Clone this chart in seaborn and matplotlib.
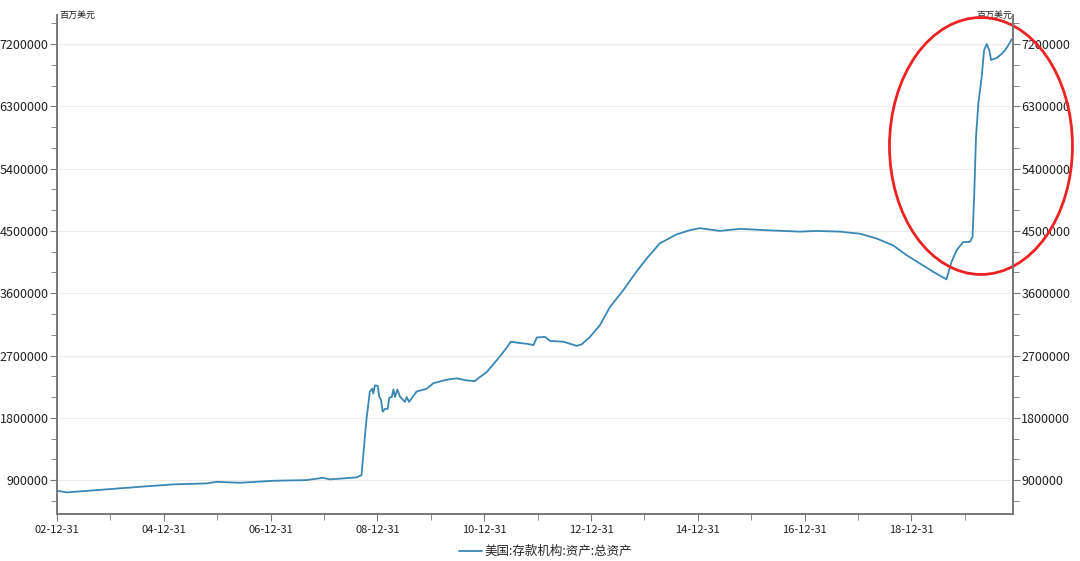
import pandas as pd
import matplotlib.pyplot as plt
import matplotlib.dates as mdates
from matplotlib.ticker import MultipleLocator, FuncFormatter
from matplotlib.patches import Ellipse
import seaborn as sns

# values (百万美元)
dates = [
    "2003-01-01", "2003-03-08", "2003-12-05", "2004-07-20", "2005-03-05", "2005-10-20",
    "2005-12-27", "2006-06-04", "2007-01-18", "2007-09-03", "2007-12-24", "2008-02-09",
    "2008-08-11", "2008-09-13", "2008-10-06", "2008-10-18", "2008-11-09", "2008-11-25",
    "2008-12-02", "2008-12-14", "2009-01-02", "2009-01-13", "2009-01-24", "2009-02-05",
    "2009-02-21", "2009-03-11", "2009-03-22", "2009-04-08", "2009-04-19", "2009-04-30",
    "2009-05-16", "2009-06-04", "2009-06-15", "2009-07-07", "2009-07-19", "2009-08-04",
    "2009-09-25", "2009-12-03", "2010-01-17", "2010-04-18", "2010-06-25", "2010-09-02",
    "2010-10-28", "2010-11-20", "2011-01-17", "2011-03-26", "2011-05-22", "2011-07-01",
    "2011-09-02", "2011-10-19", "2011-12-03", "2011-12-26", "2012-02-19", "2012-03-26",
    "2012-06-24", "2012-09-23", "2012-10-27", "2012-12-24", "2013-03-02", "2013-05-09",
    "2013-08-07", "2013-11-06", "2014-01-15", "2014-04-15", "2014-08-08", "2014-11-06",
    "2015-01-14", "2015-05-31", "2015-10-15", "2016-04-15", "2016-11-28", "2017-03-23",
    "2017-08-29", "2018-01-13", "2018-05-08", "2018-08-29", "2018-11-28", "2019-02-27",
    "2019-05-29", "2019-08-28", "2019-10-01", "2019-11-05", "2019-12-20", "2020-02-04",
    "2020-02-22", "2020-03-05", "2020-03-17", "2020-04-02", "2020-04-25", "2020-05-11",
    "2020-05-29", "2020-06-16", "2020-06-28", "2020-08-06", "2020-09-09", "2020-10-01",
    "2020-10-23", "2020-11-16",
]
assets = [
    745000, 722000, 766000, 803000, 838000, 852000,
    875000, 861000, 890000, 900000, 933000, 910000,
    939000, 972000, 1530000, 1800000, 2180000, 2220000,
    2150000, 2270000, 2260000, 2100000, 2060000, 1890000,
    1930000, 1930000, 2090000, 2100000, 2210000, 2100000,
    2210000, 2100000, 2080000, 2030000, 2100000, 2030000,
    2180000, 2220000, 2300000, 2350000, 2370000, 2340000,
    2330000, 2370000, 2460000, 2630000, 2780000, 2900000,
    2880000, 2870000, 2850000, 2960000, 2970000, 2910000,
    2900000, 2840000, 2860000, 2970000, 3140000, 3400000,
    3640000, 3910000, 4100000, 4320000, 4450000, 4510000,
    4540000, 4500000, 4530000, 4510000, 4490000, 4500000,
    4490000, 4460000, 4390000, 4290000, 4150000, 4030000,
    3910000, 3800000, 4050000, 4220000, 4340000, 4340000,
    4410000, 5040000, 5860000, 6340000, 6730000, 7110000,
    7200000, 7110000, 6970000, 7000000, 7060000, 7110000,
    7180000, 7270000,
]
series_name = "美国:存款机构:资产:总资产"
unit = "百万美元"

df = pd.DataFrame({"date": pd.to_datetime(dates), "value": assets})

sns.set_style("ticks")
plt.rcParams["font.family"] = ["Noto Sans CJK SC", "DejaVu Sans"]

fig = plt.figure(figsize=(10.8, 5.61), dpi=100)
ax = fig.add_axes([57 / 1080, 1 - 514 / 561, 956 / 1080, 499 / 561])

sns.lineplot(data=df, x="date", y="value", ax=ax, color="#3a87b6",
             linewidth=1.3, label=series_name)

ax.set_xlim(pd.Timestamp("2002-12-31"), pd.Timestamp("2020-11-25"))
ax.set_ylim(410000, 7620000)
ax.set_xlabel("")
ax.set_ylabel("")

ax.xaxis.set_major_locator(mdates.YearLocator(2, month=12, day=31))
ax.xaxis.set_minor_locator(mdates.YearLocator(1, month=12, day=31))
ax.xaxis.set_major_formatter(mdates.DateFormatter("%y-%m-%d"))
ax.yaxis.set_major_locator(MultipleLocator(900000))
ax.yaxis.set_minor_locator(MultipleLocator(300000))
fmt = FuncFormatter(lambda v, p: f"{int(round(v))}")
ax.yaxis.set_major_formatter(fmt)

ax.grid(axis="y", which="major", color="#ececec", linewidth=0.8)
ax.set_axisbelow(True)

ax2 = ax.twinx()
ax2.set_ylim(ax.get_ylim())
ax2.yaxis.set_major_locator(MultipleLocator(900000))
ax2.yaxis.set_minor_locator(MultipleLocator(300000))
ax2.yaxis.set_major_formatter(fmt)

for a in (ax, ax2):
    for s in a.spines.values():
        s.set_color("#777777")
        s.set_linewidth(1.2)
    a.spines["top"].set_visible(False)
    a.tick_params(which="major", length=5, color="#777777", labelsize=9,
                  labelcolor="#222222", pad=1)
    a.tick_params(which="minor", length=4, color="#777777")
ax.tick_params(axis="x", labelsize=8, pad=3)

ax.text(0.003, 1.0, unit, transform=ax.transAxes, ha="left", va="center",
        fontsize=6.5, color="#222222")
ax.text(0.999, 1.0, unit, transform=ax.transAxes, ha="right", va="center",
        fontsize=6.5, color="#222222")

ax.get_legend().remove()
handles, labels = ax.get_legend_handles_labels()
fig.legend(handles, labels, loc="lower center", bbox_to_anchor=(0.505, -0.015),
           frameon=False, fontsize=9, handlelength=1.8, handletextpad=0.2)

ell = Ellipse((0.9665, 0.7375), 0.1914, 0.515, transform=ax.transAxes,
              fill=False, edgecolor="#ee2222", linewidth=2, clip_on=False)
ax2.add_patch(ell)

fig.savefig("out.png", dpi=100)
